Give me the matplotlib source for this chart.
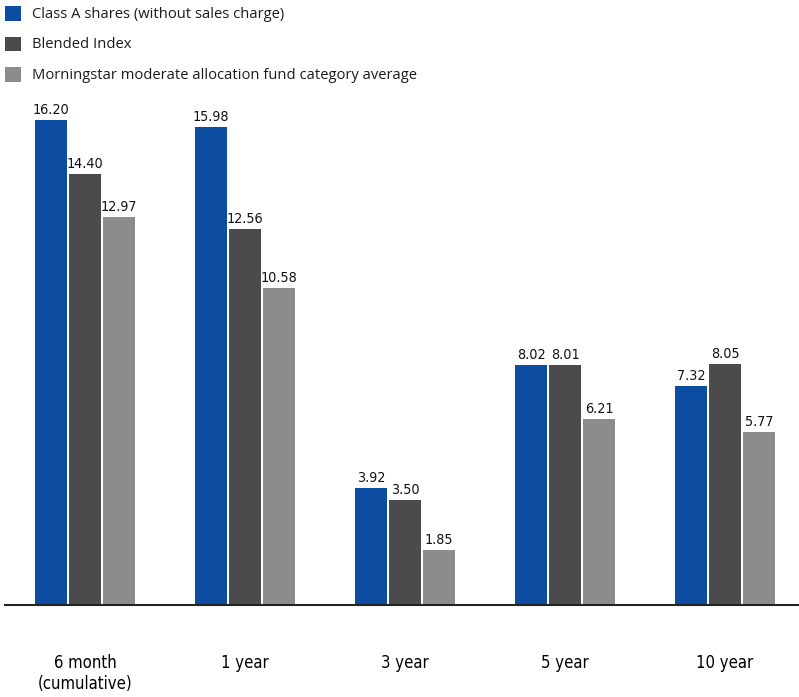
import matplotlib
matplotlib.use("Agg")
import matplotlib.pyplot as plt
from matplotlib.patches import Rectangle
import numpy as np

categories = ["6 month\n(cumulative)", "1 year", "3 year", "5 year", "10 year"]
series_names = [
    "Class A shares (without sales charge)",
    "Blended Index",
    "Morningstar moderate allocation fund category average",
]
class_a = [16.20, 15.98, 3.92, 8.02, 7.32]
blended = [14.40, 12.56, 3.50, 8.01, 8.05]
morningstar = [12.97, 10.58, 1.85, 6.21, 5.77]
colors = ["#0D4DA1", "#4B4B4B", "#8C8C8C"]

plt.rcParams["font.family"] = ["Open Sans", "DejaVu Sans"]
narrow = dict(family="DejaVu Sans", fontstretch="condensed")

W, H = 799, 697
fig = plt.figure(figsize=(W / 100, H / 100), dpi=100)
ax = fig.add_axes([5 / W, (H - 605) / H, 794 / W, (605 - 90) / H])

x = np.arange(len(categories))
width = 0.2
step = 0.2125
series = [class_a, blended, morningstar]
for i, (vals, col) in enumerate(zip(series, colors)):
    bars = ax.bar(x + (i - 1) * step, vals, width, color=col, linewidth=0)
    for b, v in zip(bars, vals):
        ax.text(b.get_x() + b.get_width() / 2, v + 0.1, f"{v:.2f}",
                ha="center", va="bottom", fontsize=10.3, color="#111111", **narrow)

ax.set_xlim(-0.5, 4.4625)
ax.set_ylim(0, (605 - 90) / 29.94)
for s in ["top", "right", "left"]:
    ax.spines[s].set_visible(False)
ax.spines["bottom"].set_color("#222222")
ax.spines["bottom"].set_linewidth(1.5)
ax.set_yticks([])
ax.set_xticks(x)
ax.set_xticklabels(categories, fontsize=12, linespacing=1.25, va="top", **narrow)
ax.tick_params(axis="x", length=0, pad=35)

# legend: coloured squares with labels, laid out in figure pixels
for i, (name, col) in enumerate(zip(series_names, colors)):
    cy = 13.5 + i * 30.5
    fig.add_artist(Rectangle((5 / W, (H - cy - 7) / H), 16 / W, 14 / H,
                             transform=fig.transFigure, color=col, linewidth=0))
    fig.text(32 / W, (H - cy + 1) / H, name, ha="left", va="center_baseline",
             fontsize=10.6, color="#1a1a1a")

fig.savefig("out.png", dpi=100)
